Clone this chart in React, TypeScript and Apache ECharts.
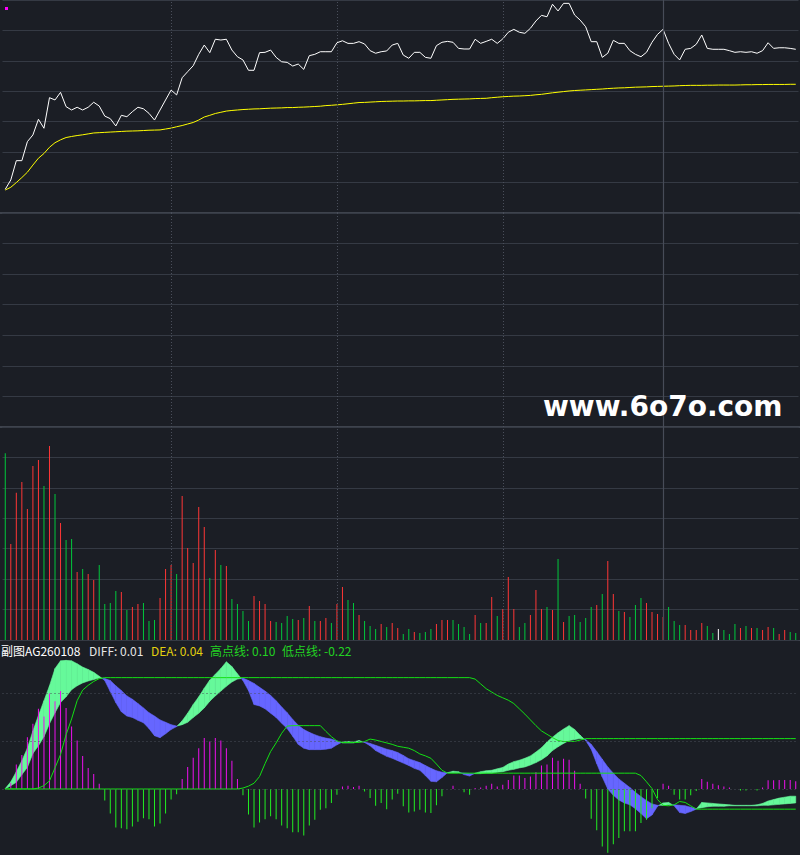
import React, { useEffect, useRef } from "react";
import * as echarts from "echarts";

// ---------- data ----------
const price = [
  6156, 6217, 6344, 6344, 6469, 6513, 6616, 6557, 6758, 6743,
  6793, 6699, 6677, 6695, 6677, 6695, 6728, 6703, 6637, 6620,
  6572, 6642, 6633, 6666, 6695, 6685, 6655, 6611, 6677, 6743,
  6808, 6776, 6889, 6929, 6968, 7043, 7104, 7054, 7142, 7137,
  7142, 7071, 7027, 7006, 6938, 6938, 7054, 7056, 7071, 7023,
  6994, 6990, 6966, 6979, 6944, 7034, 7043, 7060, 7060, 7060,
  7119, 7132, 7115, 7115, 7126, 7111, 7067, 7050, 7060, 7065,
  7104, 7115, 7038, 7017, 7056, 7056, 7023, 7017, 7100, 7122,
  7128, 7122, 7082, 7078, 7078, 7142, 7115, 7128, 7142, 7115,
  7144, 7188, 7207, 7188, 7181, 7214, 7262, 7299, 7290, 7372,
  7328, 7378, 7378, 7301, 7268, 7224, 7126, 7126, 7023, 7050,
  7135, 7115, 7115, 7067, 7043, 7027, 7056, 7122, 7174, 7207,
  7115, 7043, 7006, 7076, 7082, 7109, 7170, 7082, 7076, 7076,
  7076, 7067, 7056, 7060, 7056, 7060, 7050, 7067, 7119, 7082,
  7086, 7086, 7082, 7076,
];

const ma = [
  6151, 6169, 6200, 6233, 6268, 6315, 6360, 6391, 6432, 6462,
  6481, 6496, 6503, 6509, 6514, 6520, 6526, 6528, 6530, 6532,
  6534, 6536, 6538, 6539, 6540, 6542, 6544, 6545, 6546, 6552,
  6558, 6567, 6575, 6585, 6595, 6611, 6631, 6642, 6654, 6662,
  6670, 6674, 6677, 6680, 6682, 6684, 6685, 6687, 6689, 6690,
  6691, 6693, 6693, 6695, 6696, 6698, 6700, 6702, 6706, 6708,
  6711, 6714, 6718, 6722, 6726, 6727, 6729, 6731, 6733, 6734,
  6735, 6736, 6736, 6737, 6737, 6738, 6739, 6739, 6741, 6743,
  6745, 6747, 6748, 6749, 6750, 6752, 6753, 6754, 6758, 6761,
  6764, 6766, 6768, 6769, 6771, 6773, 6777, 6780, 6785, 6790,
  6794, 6798, 6802, 6805, 6807, 6809, 6811, 6813, 6815, 6818,
  6820, 6822, 6823, 6825, 6827, 6828, 6829, 6831, 6832, 6833,
  6834, 6835, 6837, 6838, 6839, 6839, 6839, 6840, 6840, 6841,
  6841, 6841, 6841, 6842, 6843, 6843, 6844, 6844, 6845, 6845,
  6845, 6845, 6846, 6846,
];

const volume = [
  18410, 9470, 14520, 15580, 12920, 17160, 17750, 15180, 19130, 14400,
  11540, 9860, 9960, 6700, 7000, 6510, 5920, 7400, 3550, 3650,
  4830, 4730, 2960, 3250, 3550, 3650, 1870, 1970, 4140, 7000,
  7400, 6510, 14200, 9070, 7590, 13110, 11140, 6110, 8870, 7400,
  7300, 4040, 3550, 2860, 1870, 4340, 3850, 3550, 1870, 1770,
  1680, 2370, 2070, 1970, 2170, 3350, 1870, 1870, 2170, 1680,
  3550, 5230, 3940, 3650, 2470, 1870, 1380, 1080, 1580, 1280,
  1680, 1180, 590, 1080, 790, 690, 790, 1080, 1580, 1970,
  1970, 1970, 1580, 1280, 590, 2470, 1680, 1680, 4240, 2370,
  3060, 6210, 3060, 1280, 1680, 2470, 4930, 3060, 3250, 2960,
  7990, 1770, 2370, 2470, 1770, 2170, 3250, 3450, 4540, 7790,
  4540, 2860, 2760, 2270, 3450, 4140, 3650, 2760, 2560, 2270,
  3250, 1870, 1480, 1480, 990, 990, 1680, 1380, 690, 1080,
  990, 590, 1580, 1180, 1380, 1180, 1180, 990, 1280, 1180,
  590, 990, 790, 690,
];

// 1 = up (red), -1 = down (green), 0 = flat (white)
const volTrend = [
  -1, 1, 1, 1, 1, 1, 1, -1, 1, -1,
  1, -1, -1, 1, -1, 1, 1, -1, -1, -1,
  -1, 1, -1, 1, 1, -1, -1, -1, 1, 1,
  1, -1, 1, 1, 1, 1, 1, -1, 1, -1,
  1, -1, -1, -1, -1, 1, 1, 1, 1, -1,
  -1, -1, -1, 1, -1, 1, -1, 1, 1, -1,
  1, 1, -1, -1, 1, -1, -1, -1, 1, -1,
  1, 1, -1, -1, 1, -1, -1, -1, 1, 1,
  1, -1, -1, -1, -1, 1, -1, 1, 1, -1,
  1, 1, 1, -1, -1, 1, 1, 1, -1, 1,
  -1, 1, -1, -1, -1, -1, -1, 1, -1, 1,
  1, -1, 1, -1, -1, -1, 1, 1, 1, 1,
  -1, -1, -1, 1, 1, 1, 1, -1, -1, 0,
  -1, -1, -1, 1, -1, 1, -1, 1, 1, -1,
  1, 1, -1, -1,
];

const macdHist = [
  0, 0.013, 0.051, 0.071, 0.108, 0.136, 0.167, 0.151, 0.199, 0.183,
  0.204, 0.169, 0.13, 0.101, 0.069, 0.044, 0.031, 0.011, -0.024, -0.051,
  -0.08, -0.082, -0.084, -0.078, -0.068, -0.061, -0.063, -0.078, -0.072, -0.051,
  -0.022, -0.011, 0.021, 0.046, 0.065, 0.085, 0.106, 0.099, 0.106, 0.101,
  0.085, 0.059, 0.021, -0.013, -0.053, -0.08, -0.07, -0.063, -0.057, -0.063,
  -0.076, -0.082, -0.09, -0.09, -0.097, -0.076, -0.064, -0.043, -0.04, -0.029,
  -0.012, 0.005, 0.007, 0.004, 0.007, -0.005, -0.019, -0.035, -0.029, -0.042,
  -0.022, -0.01, -0.036, -0.049, -0.047, -0.043, -0.049, -0.05, -0.034, -0.015,
  0, 0.007, 0, -0.007, -0.012, 0.002, 0.003, 0.007, 0.011, 0.005,
  0.009, 0.019, 0.028, 0.028, 0.023, 0.026, 0.035, 0.049, 0.051, 0.065,
  0.059, 0.063, 0.061, 0.038, 0.011, -0.02, -0.062, -0.086, -0.12, -0.133,
  -0.115, -0.102, -0.088, -0.088, -0.088, -0.071, -0.064, -0.04, -0.019, 0.011,
  0.007, -0.012, -0.022, -0.022, -0.013, -0.004, 0.021, 0.015, 0.011, 0.008,
  0.005, 0.003, 0, -0.003, -0.003, 0, -0.003, 0.003, 0.018, 0.018,
  0.019, 0.019, 0.019, 0.016,
];

const diff = [
  0.001, 0.015, 0.036, 0.059, 0.085, 0.121, 0.153, 0.184, 0.215, 0.251,
  0.267, 0.268, 0.267, 0.261, 0.254, 0.249, 0.243, 0.235, 0.226, 0.203,
  0.18, 0.161, 0.152, 0.149, 0.143, 0.138, 0.126, 0.111, 0.107, 0.115,
  0.124, 0.13, 0.142, 0.158, 0.176, 0.192, 0.21, 0.227, 0.239, 0.251,
  0.265, 0.255, 0.24, 0.226, 0.205, 0.176, 0.173, 0.167, 0.158, 0.149,
  0.137, 0.126, 0.11, 0.093, 0.085, 0.082, 0.082, 0.082, 0.083, 0.085,
  0.092, 0.098, 0.099, 0.098, 0.101, 0.097, 0.09, 0.08, 0.074, 0.068,
  0.064, 0.059, 0.054, 0.049, 0.043, 0.039, 0.028, 0.016, 0.015, 0.024,
  0.034, 0.037, 0.036, 0.03, 0.027, 0.033, 0.036, 0.038, 0.039, 0.042,
  0.045, 0.052, 0.057, 0.06, 0.064, 0.069, 0.077, 0.086, 0.098, 0.108,
  0.117, 0.125, 0.132, 0.124, 0.112, 0.101, 0.083, 0.053, 0.025, 0.0,
  -0.013, -0.023, -0.029, -0.033, -0.041, -0.051, -0.062, -0.054, -0.036, -0.029,
  -0.028, -0.035, -0.049, -0.051, -0.047, -0.042, -0.028, -0.029, -0.03, -0.031,
  -0.032, -0.033, -0.034, -0.034, -0.034, -0.034, -0.033, -0.03, -0.025, -0.022,
  -0.019, -0.017, -0.015, -0.015,
];

const dea = [
  0, 0.007, 0.014, 0.03, 0.045, 0.074, 0.09, 0.109, 0.136, 0.159,
  0.18, 0.192, 0.207, 0.215, 0.221, 0.225, 0.228, 0.231, 0.23, 0.226,
  0.215, 0.205, 0.194, 0.187, 0.178, 0.169, 0.159, 0.152, 0.144, 0.139,
  0.134, 0.131, 0.134, 0.139, 0.149, 0.158, 0.169, 0.183, 0.194, 0.204,
  0.214, 0.223, 0.229, 0.231, 0.226, 0.22, 0.212, 0.204, 0.195, 0.184,
  0.171, 0.159, 0.145, 0.133, 0.124, 0.118, 0.113, 0.109, 0.106, 0.104,
  0.1, 0.096, 0.096, 0.096, 0.099, 0.098, 0.095, 0.091, 0.087, 0.083,
  0.08, 0.076, 0.07, 0.063, 0.059, 0.055, 0.049, 0.043, 0.038, 0.035,
  0.034, 0.034, 0.034, 0.033, 0.032, 0.032, 0.032, 0.033, 0.033, 0.035,
  0.036, 0.039, 0.041, 0.044, 0.046, 0.05, 0.055, 0.061, 0.069, 0.08,
  0.088, 0.095, 0.101, 0.103, 0.105, 0.103, 0.093, 0.078, 0.062, 0.046,
  0.033, 0.021, 0.012, 0.003, -0.007, -0.016, -0.024, -0.031, -0.034, -0.034,
  -0.033, -0.033, -0.034, -0.035, -0.038, -0.041, -0.039, -0.037, -0.036, -0.036,
  -0.036, -0.035, -0.035, -0.035, -0.035, -0.035, -0.035, -0.034, -0.034, -0.033,
  -0.032, -0.031, -0.03, -0.029,
];

// 高点线
const highLine = [
  0, 0, 0, 0, 0, 0, 0.002, 0.007, 0.017, 0.044,
  0.072, 0.113, 0.146, 0.184, 0.206, 0.216, 0.224, 0.23, 0.232, 0.232,
  0.232, 0.232, 0.232, 0.232, 0.232, 0.232, 0.232, 0.232, 0.232, 0.232,
  0.232, 0.232, 0.232, 0.232, 0.232, 0.232, 0.232, 0.232, 0.232, 0.232,
  0.232, 0.232, 0.232, 0.232, 0.232, 0.232, 0.232, 0.232, 0.232, 0.232,
  0.232, 0.232, 0.232, 0.232, 0.232, 0.232, 0.232, 0.232, 0.232, 0.232,
  0.232, 0.232, 0.232, 0.232, 0.232, 0.232, 0.232, 0.232, 0.232, 0.232,
  0.232, 0.232, 0.232, 0.232, 0.232, 0.232, 0.232, 0.232, 0.232, 0.232,
  0.232, 0.232, 0.232, 0.232, 0.232, 0.229, 0.219, 0.209, 0.202, 0.195,
  0.19, 0.185, 0.178, 0.167, 0.156, 0.144, 0.132, 0.121, 0.114, 0.107,
  0.101, 0.099, 0.099, 0.099, 0.102, 0.105, 0.105, 0.105, 0.105, 0.105,
  0.105, 0.105, 0.105, 0.105, 0.105, 0.105, 0.105, 0.105, 0.105, 0.105,
  0.105, 0.105, 0.105, 0.105, 0.105, 0.105, 0.105, 0.105, 0.105, 0.105,
  0.105, 0.105, 0.105, 0.105, 0.105, 0.105, 0.105, 0.105, 0.105, 0.105,
  0.105, 0.105, 0.105, 0.105,
];

// 低点线
const lowLine = [
  0, 0, 0, 0, 0, 0, 0, 0, 0, 0,
  0, 0, 0, 0, 0, 0, 0, 0, 0, 0,
  0, 0, 0, 0, 0, 0, 0, 0, 0, 0,
  0, 0, 0, 0, 0, 0, 0, 0, 0, 0,
  0, 0, 0, 0.002, 0.006, 0.012, 0.026, 0.053, 0.078, 0.096,
  0.116, 0.131, 0.132, 0.132, 0.132, 0.132, 0.132, 0.132, 0.12, 0.109,
  0.1, 0.097, 0.097, 0.097, 0.097, 0.099, 0.104, 0.102, 0.099, 0.096,
  0.093, 0.089, 0.087, 0.085, 0.08, 0.073, 0.069, 0.064, 0.052, 0.039,
  0.033, 0.033, 0.033, 0.033, 0.033, 0.033, 0.033, 0.033, 0.033, 0.033,
  0.033, 0.033, 0.033, 0.033, 0.033, 0.033, 0.033, 0.033, 0.033, 0.033,
  0.033, 0.033, 0.033, 0.033, 0.033, 0.033, 0.033, 0.033, 0.033, 0.033,
  0.033, 0.033, 0.033, 0.033, 0.033, 0.028, 0.015, 0.001, -0.022, -0.034,
  -0.035, -0.033, -0.026, -0.028, -0.035, -0.042, -0.042, -0.042, -0.042, -0.042,
  -0.042, -0.042, -0.042, -0.042, -0.042, -0.042, -0.042, -0.042, -0.042, -0.042,
  -0.042, -0.042, -0.042, -0.042,
];

const categories = price.map((_, i) => String(i + 1));
const dividerIdx = [30, 60, 90];
const currentIdx = 119;
const macdRefLevels = [0, 0.1, 0.2];

const titleParts = [
  { text: "副图AG260108", color: "#ffffff" },
  { text: "DIFF: 0.01", color: "#e6e6e6" },
  { text: "DEA: 0.04", color: "#e3cf0e" },
  { text: "高点线: 0.10", color: "#22d322" },
  { text: "低点线: -0.22", color: "#22d322" },
];
const titleX = [1, 89, 151, 210, 282];
const watermark = "www.6o7o.com";

// ---------- styles ----------
const BG = "#1b1e25";
const GRID = "#353a44";
const SEP = "#3e434d";
const DIV = "#4a4f5b";
const UP = "#ff3636";
const DOWN = "#00c83c";
const FLAT = "#ffffff";
const BAND_UP = "#66f99a";
const BAND_DN = "#6666ff";
const HIST_UP = "#ee11ee";
const HIST_DN = "#22ee22";
const LINE_G = "#14e014";
const CJK = '"Noto Sans CJK SC", "Noto Sans", sans-serif';

export default function App() {
  const ref = useRef<HTMLDivElement>(null);

  useEffect(() => {
    document.body.style.margin = "0";
    document.body.style.background = BG;
    const chart = echarts.init(ref.current!, null, { renderer: "svg" });

    const gridDefs = [
      { top: 0, height: 213 },
      { top: 213, height: 214 },
      { top: 427, height: 213 },
      { top: 645, height: 210 },
    ];
    const grids = gridDefs.map((g) => ({ left: 2.5, right: 1.5, top: g.top, height: g.height, containLabel: false }));
    const xAxes = gridDefs.map((_, k) => ({
      type: "category",
      gridIndex: k,
      data: categories,
      boundaryGap: true,
      axisLine: { show: false },
      axisTick: { show: false },
      axisLabel: { show: false },
      splitLine: { show: false },
    }));
    const hiddenY = {
      axisLine: { show: false },
      axisTick: { show: false },
      axisLabel: { show: false },
    };
    const yAxes = [
      { ...hiddenY, gridIndex: 0, min: 6000, max: 7400, interval: 200, splitLine: { show: true, lineStyle: { color: GRID, width: 1 } } },
      { ...hiddenY, gridIndex: 1, min: 0, max: 7, interval: 1, splitLine: { show: true, lineStyle: { color: GRID, width: 1 } } },
      { ...hiddenY, gridIndex: 2, min: 0, max: 21000, interval: 3000, splitLine: { show: true, lineStyle: { color: GRID, width: 1 } } },
      { ...hiddenY, gridIndex: 3, min: -0.1375, max: 0.3, splitLine: { show: false } },
    ];

    const vLines = {
      silent: true,
      symbol: ["none", "none"],
      label: { show: false },
      animation: false,
      data: [
        ...dividerIdx.map((i) => ({ xAxis: i, lineStyle: { color: DIV, type: [1, 2], width: 1 } })),
        { xAxis: currentIdx, lineStyle: { color: "#474c58", type: "solid", width: 1.2 } },
      ],
    };

    const bandData = diff.slice(0, -1).map((v, i) => [i, v, dea[i], diff[i + 1], dea[i + 1]]);

    const poly = (pts: number[][], color: string) => ({
      type: "polygon",
      shape: { points: pts },
      style: { fill: color, stroke: color, lineWidth: 0.6 },
    });

    const option: any = {
      backgroundColor: BG,
      animation: false,
      grid: grids,
      xAxis: xAxes,
      yAxis: yAxes,
      series: [
        {
          type: "line",
          xAxisIndex: 0,
          yAxisIndex: 0,
          data: ma,
          showSymbol: false,
          lineStyle: { color: "#ffff00", width: 1 },
          z: 3,
        },
        {
          type: "line",
          xAxisIndex: 0,
          yAxisIndex: 0,
          data: price,
          showSymbol: false,
          lineStyle: { color: "#ffffff", width: 1 },
          z: 4,
          markLine: vLines,
        },
        {
          type: "line",
          xAxisIndex: 1,
          yAxisIndex: 1,
          data: [],
          markLine: vLines,
        },
        {
          type: "bar",
          xAxisIndex: 2,
          yAxisIndex: 2,
          barWidth: 1,
          data: volume.map((v, i) => ({
            value: v,
            itemStyle: { color: volTrend[i] > 0 ? UP : volTrend[i] < 0 ? DOWN : FLAT },
          })),
          markLine: vLines,
        },
        {
          type: "line",
          xAxisIndex: 3,
          yAxisIndex: 3,
          data: [],
          z: 0,
          markLine: {
            silent: true,
            symbol: ["none", "none"],
            label: { show: false },
            data: macdRefLevels.map((v) => ({ yAxis: v, lineStyle: { color: "#4a4f5a", type: [1, 3], width: 1 } })),
          },
        },
        {
          type: "custom",
          xAxisIndex: 3,
          yAxisIndex: 3,
          data: bandData,
          encode: { x: 0, y: [1, 2, 3, 4] },
          z: 1,
          renderItem: (params: any, api: any) => {
            const i = api.value(0);
            const a1 = api.value(1), b1 = api.value(2), a2 = api.value(3), b2 = api.value(4);
            const pA1 = api.coord([i, a1]);
            const pB1 = api.coord([i, b1]);
            const pA2 = api.coord([i + 1, a2]);
            const pB2 = api.coord([i + 1, b2]);
            const d1 = a1 - b1;
            const d2 = a2 - b2;
            const col = (d: number) => (d >= 0 ? BAND_UP : BAND_DN);
            const children: any[] = [];
            if (d1 * d2 < 0) {
              const t = d1 / (d1 - d2);
              const p = [pA1[0] + (pA2[0] - pA1[0]) * t, pA1[1] + (pA2[1] - pA1[1]) * t];
              children.push(poly([pA1, p, pB1], col(d1)));
              children.push(poly([p, pA2, pB2], col(d2)));
            } else {
              children.push(poly([pA1, pA2, pB2, pB1], col(d1 + d2)));
            }
            return { type: "group", children };
          },
        },
        {
          type: "bar",
          xAxisIndex: 3,
          yAxisIndex: 3,
          barWidth: 1,
          z: 2,
          data: macdHist.map((v) => ({ value: v, itemStyle: { color: v >= 0 ? HIST_UP : HIST_DN } })),
        },
        {
          type: "line",
          xAxisIndex: 3,
          yAxisIndex: 3,
          data: highLine,
          showSymbol: false,
          lineStyle: { color: LINE_G, width: 1 },
          z: 3,
        },
        {
          type: "line",
          xAxisIndex: 3,
          yAxisIndex: 3,
          data: lowLine,
          showSymbol: false,
          lineStyle: { color: LINE_G, width: 1 },
          z: 3,
        },
      ],
      graphic: [
        { type: "line", shape: { x1: 0, y1: 213, x2: 800, y2: 213 }, style: { stroke: SEP, lineWidth: 2 }, silent: true },
        { type: "line", shape: { x1: 0, y1: 427, x2: 800, y2: 427 }, style: { stroke: SEP, lineWidth: 2 }, silent: true },
        { type: "line", shape: { x1: 0, y1: 640.5, x2: 800, y2: 640.5 }, style: { stroke: SEP, lineWidth: 1 }, silent: true },
        { type: "rect", shape: { x: 5, y: 7, width: 3, height: 3 }, style: { fill: "#ff00ff" }, silent: true },
        ...titleParts.map((p, k) => ({
          type: "text",
          x: titleX[k],
          y: 650,
          silent: true,
          style: {
            text: p.text,
            fill: p.color,
            font: `12px ${CJK}`,
            verticalAlign: "middle",
            align: "left",
          },
        })),
        {
          type: "text",
          x: 543,
          y: 406,
          silent: true,
          z: 100,
          style: {
            text: watermark,
            fill: "#ffffff",
            font: 'bold 28px "DejaVu Sans", sans-serif',
            verticalAlign: "middle",
            align: "left",
          },
        },
      ],
    };

    chart.setOption(option);
    return () => chart.dispose();
  }, []);

  return (
    <div
      ref={ref}
      style={{ position: "fixed", left: 0, top: 0, width: 800, height: 855, background: BG }}
    />
  );
}
